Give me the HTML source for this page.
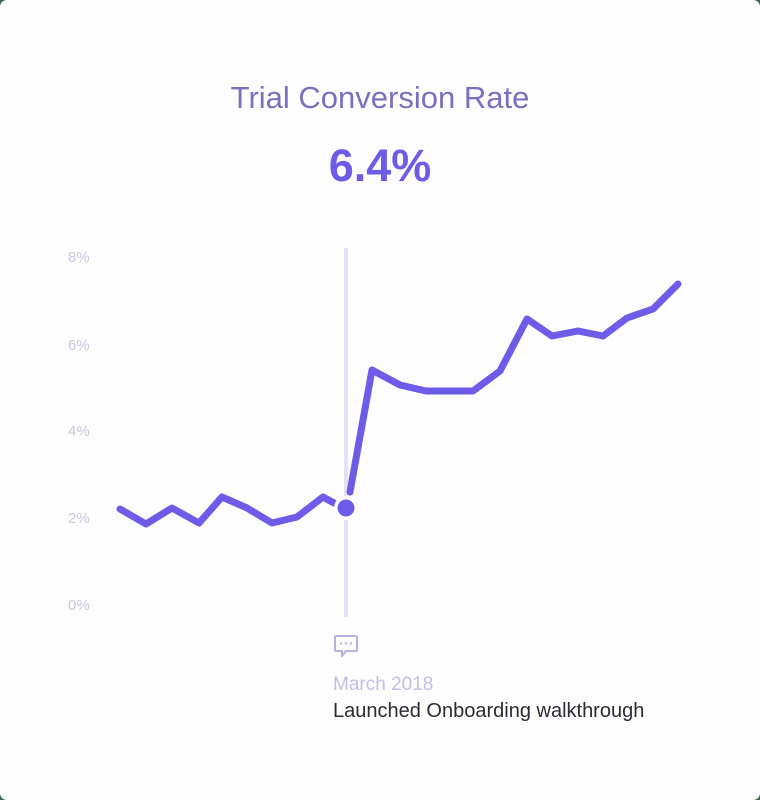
<!DOCTYPE html>
<html><head><meta charset="utf-8"><style>
html,body{margin:0;padding:0;background:#3d6b50;}
.card{position:absolute;left:0;top:0;width:760px;height:800px;background:#fdfdfd;border-radius:7px;overflow:hidden;}
svg{position:absolute;left:0;top:0;}
</style></head><body>
<div class="card">
<svg width="760" height="800" viewBox="0 0 760 800" xmlns="http://www.w3.org/2000/svg">
  <text x="380" y="108" text-anchor="middle" font-family="Liberation Sans, sans-serif" font-size="31" fill="#7a70c0">Trial Conversion Rate</text>
  <text x="380" y="181" text-anchor="middle" font-family="Liberation Sans, sans-serif" font-size="45" font-weight="bold" fill="#6c5ce7">6.4%</text>
  <g font-family="Liberation Sans, sans-serif" font-size="15" fill="#cbc7e3">
    <text x="68" y="262">8%</text>
    <text x="68" y="350">6%</text>
    <text x="68" y="436">4%</text>
    <text x="68" y="523">2%</text>
    <text x="68" y="610">0%</text>
  </g>
  <line x1="346" y1="248" x2="346" y2="617" stroke="#e4e1f6" stroke-width="4"/>
  <polyline fill="none" stroke="#6c5ce7" stroke-width="7" stroke-linejoin="round" stroke-linecap="round"
    points="120,509 146,524 172,508 199,523 222,497 247,508 272,523 297,517 323,497 334,503"/>
  <polyline fill="none" stroke="#6c5ce7" stroke-width="7" stroke-linejoin="round" stroke-linecap="round"
    points="350,492 372,370 400,385 426,391 449,391 473,391 500,371 527,319 552,336 578,331 603,336 627,318 653,309 678,284"/>
  <circle cx="346" cy="508" r="12" fill="#fdfdfd"/>
  <circle cx="346" cy="508" r="8.5" fill="#6c5ce7"/>
  <g fill="none" stroke="#b9b0e2" stroke-width="2">
    <path d="M336,636 H356 Q357,636 357,637 V650 Q357,651 356,651 H346 L342,656 V651 H336 Q335,651 335,650 V637 Q335,636 336,636 Z" stroke-linejoin="round"/>
  </g>
  <g fill="#b9b0e2">
    <circle cx="341" cy="643.5" r="1.2"/>
    <circle cx="346" cy="643.5" r="1.2"/>
    <circle cx="351" cy="643.5" r="1.2"/>
  </g>
  <text x="333" y="690" font-family="Liberation Sans, sans-serif" font-size="19" fill="#c4bde6">March 2018</text>
  <text x="333" y="717" font-family="Liberation Sans, sans-serif" font-size="20" fill="#2b2a38">Launched Onboarding walkthrough</text>
</svg>
</div>
</body></html>
